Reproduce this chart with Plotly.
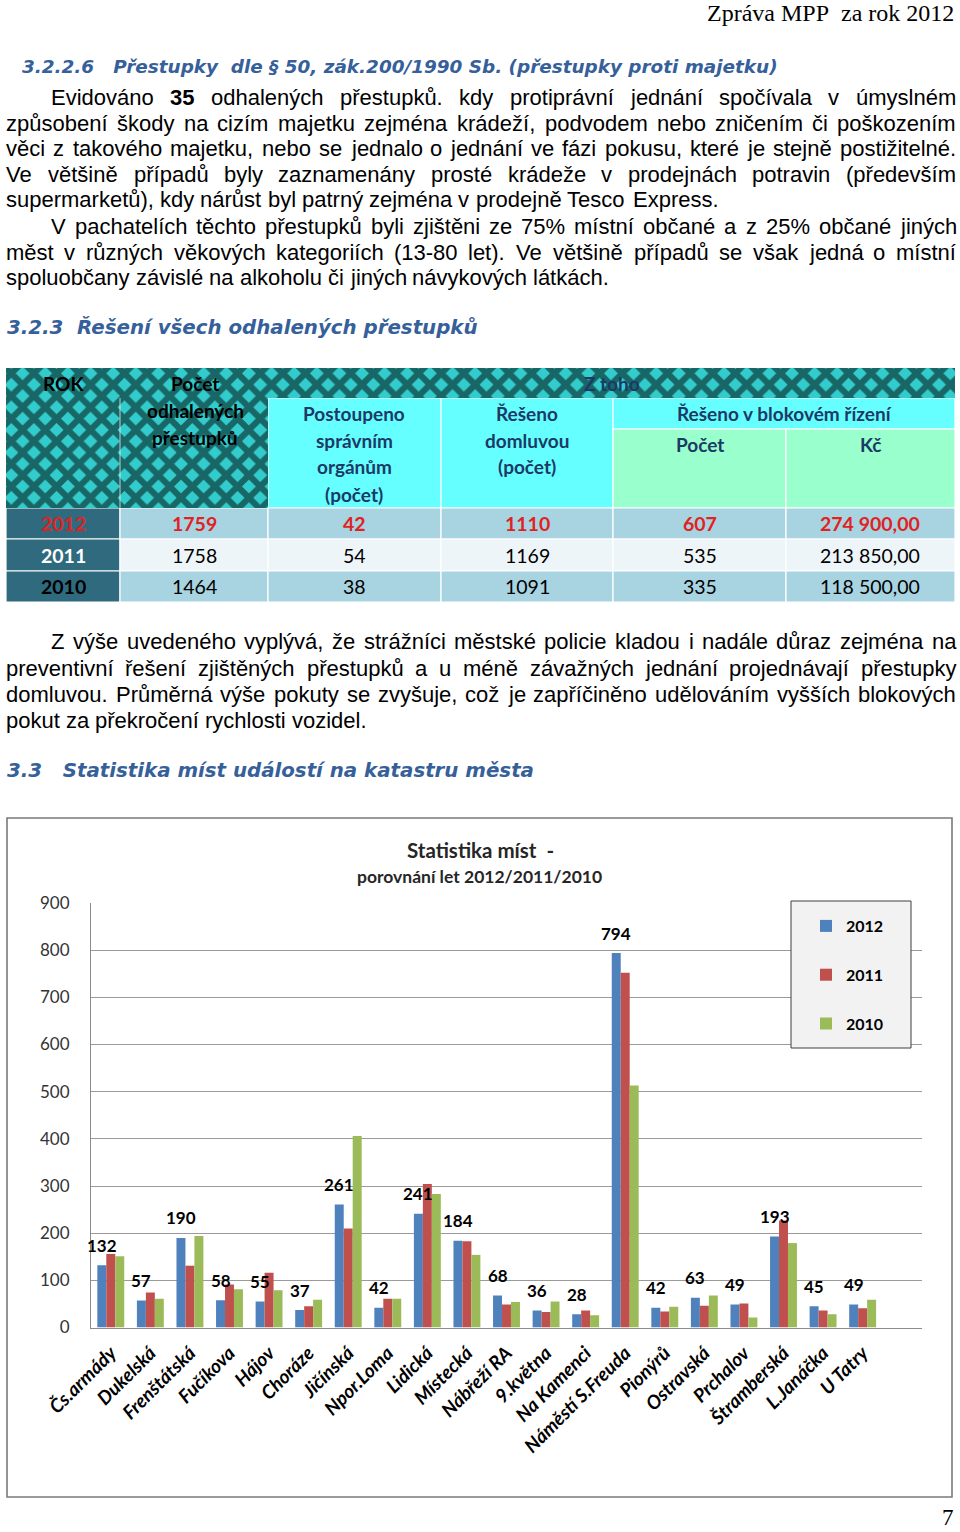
import unicodedata
import plotly.graph_objects as go

W, H = 960, 1532

# ---------------- data ----------------
categories = ["Čs.armády", "Dukelská", "Frenštátská", "Fučíkova", "Hájov", "Choráze",
              "Jičínská", "Npor.Loma", "Lidická", "Místecká", "Nábřeží RA", "9.května",
              "Na Kamenci", "Náměstí S.Freuda", "Pionýrů", "Ostravská", "Prchalov",
              "Štramberská", "L.Janáčka", "U Tatry"]
values_2012 = [132, 57, 190, 58, 55, 37, 261, 42, 241, 184, 68, 36, 28, 794, 42, 63, 49, 193, 45, 49]
values_2011 = [156, 74, 131, 91, 116, 45, 210, 61, 304, 183, 49, 33, 36, 752, 34, 46, 51, 227, 36, 41]
values_2010 = [151, 61, 194, 81, 79, 59, 406, 61, 283, 154, 54, 55, 26, 513, 44, 68, 21, 179, 28, 59]
series_names = ["2012", "2011", "2010"]
series_colors = ["#4f81bd", "#c0504d", "#9bbb59"]
y_ticks = [0, 100, 200, 300, 400, 500, 600, 700, 800, 900]

table_years = ["2012", "2011", "2010"]
table_total = ["1759", "1758", "1464"]
table_forwarded = ["42", "54", "38"]
table_talk = ["1110", "1169", "1091"]
table_block_count = ["607", "535", "335"]
table_block_czk = ["274 900,00", "213 850,00", "118 500,00"]

paragraph1 = [
    "Evidováno **35** odhalených přestupků. kdy protiprávní jednání spočívala v úmyslném",
    "způsobení škody na cizím majetku zejména krádeží, podvodem nebo zničením či poškozením",
    "věci z takového majetku, nebo se jednalo o jednání ve fázi pokusu, které je stejně postižitelné.",
    "Ve většině případů byly zaznamenány prosté krádeže v prodejnách potravin (především",
    "supermarketů), kdy nárůst byl patrný zejména v prodejně Tesco Express.",
    "V pachatelích těchto přestupků byli zjištěni ze 75% místní občané a z 25% občané jiných",
    "měst v různých věkových kategoriích (13-80 let). Ve většině případů se však jedná o místní",
    "spoluobčany závislé na alkoholu či jiných návykových látkách.",
]
paragraph2 = [
    "Z výše uvedeného vyplývá, že strážníci městské policie kladou i nadále důraz zejména na",
    "preventivní řešení zjištěných přestupků a u méně závažných jednání projednávají přestupky",
    "domluvou. Průměrná výše pokuty se zvyšuje, což je zapříčiněno udělováním vyšších blokových",
    "pokut za překročení rychlosti vozidel.",
]

# ---------------- helpers ----------------
def px(x):
    return x / W


def py(y):
    return 1 - y / H


annotations = []
shapes = []


def add_text(text, x, y, size, family, color="#000", bold=False, italic=False,
             xanchor="left", yanchor="middle"):
    annotations.append(dict(
        text=text, x=px(x), y=py(y), xref="paper", yref="paper", showarrow=False,
        xanchor=xanchor, yanchor=yanchor, borderpad=0,
        font=dict(size=size, family=family, color=color,
                  weight="bold" if bold else "normal",
                  style="italic" if italic else "normal")))


ARIAL = {" ": 278, "a": 556, "b": 556, "c": 500, "d": 556, "e": 556, "f": 278, "g": 556,
         "h": 556, "i": 222, "j": 222, "k": 500, "l": 222, "m": 833, "n": 556, "o": 556,
         "p": 556, "q": 556, "r": 333, "s": 500, "t": 278, "u": 556, "v": 500, "w": 722,
         "x": 500, "y": 500, "z": 500, "A": 667, "B": 667, "C": 722, "D": 722, "E": 667,
         "F": 611, "G": 778, "H": 722, "I": 278, "J": 500, "K": 667, "L": 556, "M": 833,
         "N": 722, "O": 778, "P": 667, "Q": 778, "R": 722, "S": 667, "T": 611, "U": 722,
         "V": 667, "W": 944, "X": 667, "Y": 667, "Z": 611, ".": 278, ",": 278, "(": 333,
         ")": 333, "%": 889, "-": 333, "í": 278}


def em(s):
    tot = 0
    for c in s:
        if c in ARIAL:
            tot += ARIAL[c]
        else:
            base = unicodedata.normalize("NFD", c)[0]
            tot += ARIAL.get(base, 556)
    return tot / 1000.0


BODY = "Liberation Sans"
BODY_SIZE = 22


def add_line(line, y, x0, x1, justify=True):
    words = line.split(" ")
    clean = [w.replace("**", "") for w in words]
    ws = [em(w) * BODY_SIZE for w in clean]
    if justify and len(words) > 1:
        gap = (x1 - x0 - sum(ws)) / (len(words) - 1)
    else:
        gap = 0.278 * BODY_SIZE
    x = x0
    for w, c, wd in zip(words, clean, ws):
        add_text(c, x, y, BODY_SIZE, BODY, bold=w.startswith("**"))
        x += wd + gap


# ---------------- page header & text ----------------
add_text("Zpráva MPP\u00a0 za rok 2012", 955, 13, 24, "Liberation Serif", xanchor="right")

HEAD = "DejaVu Sans"
HEAD_COLOR = "#36609a"
add_text("3.2.2.6\u00a0\u00a0 Přestupky\u00a0 dle § 50, zák.200/1990 Sb. (přestupky proti majetku)",
         21, 67, 18.4, HEAD, HEAD_COLOR, bold=True, italic=True)

p1_y = [97, 123, 149, 174.5, 200, 226, 252, 277.5]
p1_indent = [True, False, False, False, False, True, False, False]
p1_last = [False, False, False, False, True, False, False, True]
for line, y, ind, last in zip(paragraph1, p1_y, p1_indent, p1_last):
    add_line(line, y, 50 if ind else 5, 955, justify=not last)

add_text("3.2.3\u00a0 Řešení všech odhalených přestupků", 6, 328, 19.8, HEAD, HEAD_COLOR,
         bold=True, italic=True)

p2_y = [642, 668, 694, 720]
for i, (line, y) in enumerate(zip(paragraph2, p2_y)):
    add_line(line, y, 50 if i == 0 else 5, 955, justify=(i < 3))

add_text("3.3\u00a0\u00a0 Statistika míst událostí na katastru města", 6, 770, 19.8, HEAD,
         HEAD_COLOR, bold=True, italic=True)

add_text("7", 955, 1517, 23, "Liberation Serif", xanchor="right")

# ---------------- table ----------------
TF = "Lato"
NAVY = "#1b3a66"
RED = "#e02222"
cols = [6, 120, 268, 441, 613, 786, 955]
rows = [508, 539, 571, 602]


def rect(x0, y0, x1, y1, fill, line="#ffffff", lw=1.2, layer="below"):
    shapes.append(dict(type="rect", xref="paper", yref="paper", x0=px(x0), x1=px(x1),
                       y0=py(y1), y1=py(y0), fillcolor=fill,
                       line=dict(color=line, width=lw), layer=layer))


CYAN = "#66ffff"
GREEN = "#99ffcc"
rect(268, 398, 441, 508, CYAN)
rect(441, 398, 613, 508, CYAN)
rect(613, 398, 955, 429, CYAN)
rect(613, 429, 786, 508, GREEN)
rect(786, 429, 955, 508, GREEN)

row_fills = ["#a8d3e1", "#eef5f9", "#a8d3e1"]
for r in range(3):
    rect(cols[0], rows[r], cols[1], rows[r + 1], "#2f6a7e")
    for c in range(1, 6):
        rect(cols[c], rows[r], cols[c + 1], rows[r + 1], row_fills[r])

# header texts
add_text("ROK", 63, 383, 19, TF, "#000", bold=True, xanchor="center")
for t, y in zip(["Počet", "odhalených", "přestupků"], [383, 410, 437]):
    add_text(t, 195, y, 19, TF, "#000", bold=True, xanchor="center")
add_text("Z toho", 612, 383, 19, TF, NAVY, bold=True, xanchor="center")
for t, y in zip(["Postoupeno", "správním", "orgánům", "(počet)"], [413, 440, 467, 494]):
    add_text(t, 354, y, 19, TF, NAVY, bold=True, xanchor="center")
for t, y in zip(["Řešeno", "domluvou", "(počet)"], [413, 440, 467]):
    add_text(t, 527, y, 19, TF, NAVY, bold=True, xanchor="center")
add_text("Řešeno v blokovém řízení", 784, 413, 19, TF, NAVY, bold=True, xanchor="center")
add_text("Počet", 700, 444, 19, TF, NAVY, bold=True, xanchor="center")
add_text("Kč", 870, 444, 19, TF, NAVY, bold=True, xanchor="center")

col_centers = [63, 194, 354, 527, 700, 870]
row_centers = [523, 555, 586.5]
year_colors = [RED, "#ffffff", "#000000"]
for r in range(3):
    vals = [table_years[r], table_total[r], table_forwarded[r], table_talk[r],
            table_block_count[r], table_block_czk[r]]
    for c, v in enumerate(vals):
        if c == 0:
            color, bold = year_colors[r], True
        elif r == 0:
            color, bold = RED, True
        else:
            color, bold = "#000000", False
        add_text(v, col_centers[c], row_centers[r], 19.5, TF, color, bold=bold,
                 xanchor="center")

# ---------------- chart ----------------
PL, PR, PT, PB = 91, 922, 903, 1327.5
n_slots = 21
bargap = 0.32
bar_px = (PR - PL) / n_slots * (1 - bargap) / 3

shapes.append(dict(type="rect", xref="paper", yref="paper", x0=px(7), x1=px(952),
                   y0=py(1497), y1=py(818), line=dict(color="#7a7a7a", width=1.6),
                   fillcolor="rgba(0,0,0,0)", layer="below"))
# legend box
shapes.append(dict(type="rect", xref="paper", yref="paper", x0=px(791), x1=px(911),
                   y0=py(1048), y1=py(901), line=dict(color="#3f3f3f", width=1),
                   fillcolor="#f2f2f2", layer="above"))

add_text("Statistika míst\u00a0 -", 480, 850, 20.5, TF, "#262626", bold=True, xanchor="center")
add_text("porovnání let 2012/2011/2010", 479, 876, 17.5, TF, "#262626", bold=True,
         xanchor="center")

fig = go.Figure()
for name, vals, col in zip(series_names, [values_2012, values_2011, values_2010], series_colors):
    fig.add_trace(go.Bar(x=categories, y=vals, name=name, marker=dict(color=col, line=dict(width=0)),
                         legendgroup=name, hoverinfo="x+y+name"))

for cat, v in zip(categories, values_2012):
    annotations.append(dict(x=cat, y=v, xref="x", yref="y", text=str(v), showarrow=False,
                            xshift=-bar_px, yshift=20, yanchor="middle",
                            font=dict(family=TF, size=17, color="#000", weight="bold")))

# patterned header area of the table (decorative fill)
fig.add_trace(go.Scatter(
    x=[6, 955, 955, 268, 268, 6, 6], y=[368, 368, 398, 398, 508, 508, 368],
    xaxis="x2", yaxis="y2", mode="lines", fill="toself", line=dict(width=0),
    fillcolor="#33cccc",
    fillpattern=dict(shape="x", fgcolor="#000000", bgcolor="#33cccc", size=16, solidity=0.62),
    showlegend=False, hoverinfo="skip"))
fig.add_trace(go.Scatter(
    x=[120, 120], y=[398, 508], xaxis="x2", yaxis="y2", mode="lines",
    line=dict(color="rgba(255,255,255,0.7)", width=1), showlegend=False, hoverinfo="skip"))

fig.update_layout(
    width=W, height=H,
    margin=dict(l=0, r=0, t=0, b=0, autoexpand=False),
    paper_bgcolor="#ffffff", plot_bgcolor="rgba(0,0,0,0)",
    barmode="group", bargap=bargap, bargroupgap=0,
    showlegend=True,
    legend=dict(x=px(806), y=py(909), xanchor="left", yanchor="top",
                bgcolor="rgba(0,0,0,0)", borderwidth=0,
                font=dict(family=TF, size=16, color="#000", weight="bold"),
                tracegroupgap=25, traceorder="grouped"),
    xaxis=dict(domain=[px(PL), px(PR)], anchor="y", range=[-0.5, n_slots - 0.5],
               automargin=False, ticklabelstandoff=6,
               tickangle=-45, showgrid=False, showline=True, linecolor="#8c8c8c",
               linewidth=1, ticks="",
               tickfont=dict(family=TF, size=19, color="#000", weight="bold", style="italic")),
    yaxis=dict(domain=[py(PB), py(PT)], anchor="x", range=[0, 900], tickvals=y_ticks,
               automargin=False,
               showgrid=True, gridcolor="#9a9a9a", gridwidth=1, showline=True,
               linecolor="#8c8c8c", linewidth=1, zeroline=False, ticks="",
               ticklabelstandoff=17,
               tickfont=dict(family=TF, size=17, color="#333333")),
    xaxis2=dict(domain=[0, 1], range=[0, W], visible=False, anchor="y2", fixedrange=True,
                automargin=False),
    yaxis2=dict(domain=[0, 1], range=[H, 0], visible=False, anchor="x2", fixedrange=True,
                automargin=False),
    annotations=annotations,
    shapes=shapes,
)

fig.write_html("out.html", config={"displayModeBar": False},
               post_script="document.body.style.margin='0';")
